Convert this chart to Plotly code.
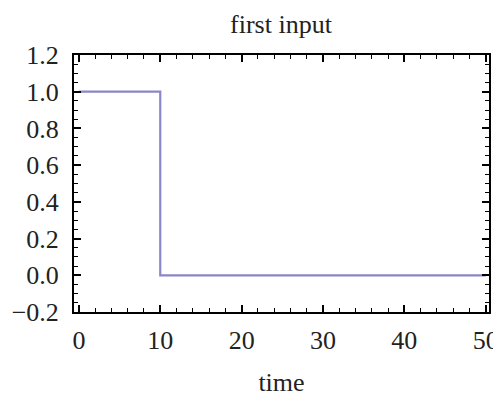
import plotly.graph_objects as go

# Step input: 1 until t = 10, then 0 until t = 50
time = [0, 10, 10, 50]
signal = [1.0, 1.0, 0.0, 0.0]

x_ticks = [0, 10, 20, 30, 40, 50]
y_ticks = [-0.2, 0.0, 0.2, 0.4, 0.6, 0.8, 1.0, 1.2]

font_family = "Liberation Serif, Times New Roman, serif"

fig = go.Figure()
fig.add_trace(go.Scatter(
    x=time, y=signal, mode="lines",
    line=dict(color="#8a86c8", width=2.2),
    showlegend=False,
))

axis_common = dict(
    showgrid=False, zeroline=False,
    showline=True, linecolor="black", linewidth=2, mirror="allticks",
    ticks="inside", ticklen=7, tickwidth=1.5, tickcolor="black",
    tickfont=dict(family=font_family, size=26, color="#222"),
    ticklabeloverflow="allow", automargin=False,
)

fig.update_xaxes(
    range=[-0.6, 50.4], tickvals=x_ticks,
    minor=dict(dtick=2, ticks="inside", ticklen=4, tickcolor="black", tickwidth=1.2),
    title=dict(text="time", font=dict(family=font_family, size=26, color="#222"), standoff=24),
    ticklabelstandoff=4,
    **axis_common,
)
fig.update_yaxes(
    range=[-0.2, 1.2], tickvals=y_ticks, tickformat=".1f",
    minor=dict(dtick=0.05, ticks="inside", ticklen=4, tickcolor="black", tickwidth=1.2),
    ticklabelstandoff=8,
    **axis_common,
)

fig.update_layout(
    width=493, height=397,
    margin=dict(l=74, r=4, t=55, b=85),
    paper_bgcolor="white", plot_bgcolor="white",
    title=dict(text="first input", x=0.57, xanchor="center", y=0.94, yanchor="middle",
               font=dict(family=font_family, size=26, color="#222")),
)

fig.write_html("out.html")
